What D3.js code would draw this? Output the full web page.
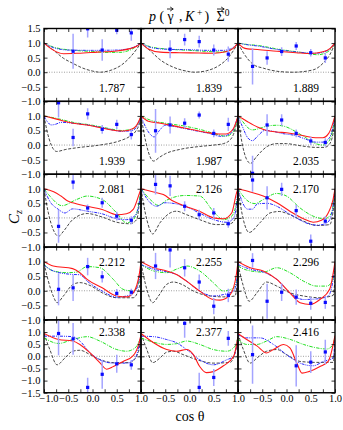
<!DOCTYPE html>
<html>
<head>
<meta charset="utf-8">
<script src="https://cdn.jsdelivr.net/npm/d3@7"></script>
<style>
  body { margin: 0; background: #fff; }
  text { font-family: "Liberation Serif", "DejaVu Serif", serif; }
</style>
</head>
<body>
<svg id="svg"></svg>
<script>
// photon energies, one per panel (row by row)
const energies = ["1.787", "1.839", "1.889", "1.939", "1.987", "2.035", "2.081", "2.126", "2.170",
                  "2.212", "2.255", "2.296", "2.338", "2.377", "2.416"];

// measured Cz: [cos theta, Cz, error]
const measured = [
  [[-0.4, 0.72, 0.6], [-0.1, 1.49, 0.3], [0.2, 0.76, 0.37], [0.5, 1.44, 0.14], [0.8, 1.35, 0.27]],
  [[-0.4, 0.79, 0.31], [-0.1, 1.12, 0.2], [0.2, 1.05, 0.2], [0.5, 0.76, 0.19], [0.8, 0.62, 0.26]],
  [[-0.7, 0.2, 0.62], [-0.4, 0.49, 0.23], [-0.1, 0.71, 0.15], [0.2, 0.9, 0.14], [0.5, 0.67, 0.13], [0.8, 0.49, 0.17]],
  [[-0.7, 1.45, 0.5], [-0.4, 0.26, 0.3], [-0.1, 1.07, 0.19], [0.2, 0.54, 0.15], [0.5, 0.71, 0.16], [0.8, 0.36, 0.17]],
  [[-0.7, 0.49, 0.75], [-0.4, 0.69, 0.29], [-0.1, 0.75, 0.17], [0.2, 1.03, 0.12], [0.5, 0.4, 0.13], [0.8, 0.71, 0.23]],
  [[-0.7, -0.97, 0.6], [-0.4, 0.69, 0.37], [-0.1, 0.86, 0.2], [0.2, 0.4, 0.13], [0.5, 0.14, 0.14], [0.8, 0.09, 0.14]],
  [[-0.7, -0.29, 0.56], [-0.4, 1.23, 0.25], [-0.1, 0.34, 0.12], [0.2, 0.52, 0.17], [0.5, 0.06, 0.15], [0.8, -0.08, 0.14]],
  [[-0.7, 1.15, 0.35], [-0.4, 1.1, 0.35], [-0.1, 0.4, 0.17], [0.2, 0.11, 0.17], [0.5, 0.17, 0.17], [0.8, -0.2, 0.14]],
  [[-0.7, 1.3, 0.4], [-0.4, 0.69, 0.4], [-0.1, 0.98, 0.23], [0.2, 0.25, 0.2], [0.5, -0.8, 0.23], [0.8, -0.11, 0.17]],
  [[-0.7, 0.05, 0.55], [-0.4, 0.1, 0.45], [-0.1, 0.83, 0.3], [0.2, 0.48, 0.2], [0.5, -0.09, 0.15], [0.8, -0.05, 0.12]],
  [[-0.7, 0.85, 0.45], [-0.4, 1.4, 0.6], [-0.1, 0.79, 0.3], [0.2, 0.3, 0.26], [0.5, -0.53, 0.28], [0.8, -0.16, 0.23]],
  [[-0.7, 1.04, 0.25], [-0.4, -0.36, 0.6], [-0.1, -0.05, 0.3], [0.2, -0.22, 0.26], [0.5, -0.43, 0.22], [0.8, -0.4, 0.22]],
  [[-0.7, 0.94, 0.9], [-0.4, 0.72, 0.65], [-0.1, -1.28, 0.4], [0.2, -0.74, 0.6], [0.5, -0.31, 0.37], [0.8, -0.35, 0.2]],
  [[-0.1, 1.36, 0.6], [0.2, -1.28, 0.6], [0.5, -0.87, 0.35], [0.8, 0.74, 0.3]],
  [[-0.7, 0.07, 1.2], [0.2, -0.39, 0.85], [0.5, -0.24, 0.45], [0.8, 0.18, 0.5]]
];

// model curves, [cos theta, Cz]
const redModel = [
  [[-1, 1], [-0.85, 0.8], [-0.6, 0.635], [-0.3, 0.65], [0.1, 0.69], [0.5, 0.73], [0.77, 0.81], [0.92, 0.9], [1, 1]],
  [[-1, 1], [-0.85, 0.8], [-0.6, 0.69], [-0.2, 0.67], [0.2, 0.66], [0.5, 0.65], [0.75, 0.7], [0.9, 0.82], [1, 1]],
  [[-1, 1], [-0.9, 0.85], [-0.8, 0.8], [-0.6, 0.78], [-0.2, 0.72], [0.2, 0.67], [0.5, 0.64], [0.75, 0.7], [0.9, 0.82], [1, 1]],
  [[-1, 1], [-0.74, 0.89], [-0.4, 0.75], [-0.05, 0.67], [0.29, 0.55], [0.63, 0.48], [0.84, 0.57], [0.95, 0.8], [1, 1]],
  [[-1, 1], [-0.85, 0.82], [-0.6, 0.75], [-0.3, 0.65], [0, 0.55], [0.3, 0.45], [0.6, 0.38], [0.75, 0.38], [0.9, 0.55], [1, 1]],
  [[-1, 1], [-0.9, 0.9], [-0.8, 0.8], [-0.6, 0.62], [-0.4, 0.5], [-0.2, 0.45], [0, 0.42], [0.2, 0.37], [0.4, 0.3], [0.6, 0.25], [0.75, 0.25], [0.87, 0.4], [0.95, 0.72], [1, 1]],
  [[-1, 1], [-0.8, 0.9], [-0.65, 0.75], [-0.5, 0.57], [-0.41, 0.52], [-0.11, 0.4], [0.2, 0.29], [0.5, 0.11], [0.7, 0.14], [0.84, 0.29], [0.97, 0.86], [1, 1]],
  [[-1, 1], [-0.74, 0.89], [-0.54, 0.8], [-0.33, 0.57], [-0.09, 0.4], [0.2, 0.23], [0.5, 0.0], [0.7, -0.03], [0.87, 0.17], [0.97, 0.86], [1, 1]],
  [[-1, 1], [-0.75, 0.89], [-0.48, 0.75], [-0.2, 0.52], [0.07, 0.23], [0.35, -0.03], [0.55, -0.15], [0.72, -0.08], [0.86, 0.17], [0.96, 0.63], [1, 1]],
  [[-1, 1], [-0.81, 0.85], [-0.41, 0.76], [-0.26, 0.62], [-0.11, 0.39], [0.2, 0.1], [0.5, -0.18], [0.7, -0.21], [0.84, -0.07], [0.97, 0.62], [1, 1]],
  [[-1, 1], [-0.74, 0.79], [-0.47, 0.68], [-0.27, 0.56], [-0.06, 0.33], [0.21, -0.01], [0.49, -0.3], [0.63, -0.32], [0.84, -0.13], [0.97, 0.6], [1, 1]],
  [[-1, 1], [-0.75, 0.79], [-0.48, 0.68], [-0.2, 0.39], [0.07, -0.07], [0.28, -0.41], [0.49, -0.47], [0.69, -0.3], [0.89, 0.05], [1, 1]],
  [[-1, 0.94], [-0.7, 0.69], [-0.41, 0.63], [-0.26, 0.49], [-0.05, 0.14], [0.15, -0.26], [0.29, -0.53], [0.43, -0.42], [0.63, -0.21], [0.84, 0.03], [0.97, 0.63], [1, 0.9]],
  [[-1, 0.94], [-0.74, 0.56], [-0.47, 0.28], [-0.27, 0.21], [-0.06, 0.28], [0.08, 0.07], [0.21, -0.42], [0.35, -0.67], [0.49, -0.63], [0.7, -0.39], [0.91, 0.0], [1, 0.8]],
  [[-1, 0.94], [-0.82, 0.69], [-0.61, 0.43], [-0.41, 0.14], [-0.27, 0.28], [-0.06, 0.49], [0.07, 0.35], [0.21, -0.26], [0.32, -0.69], [0.46, -0.63], [0.69, -0.42], [0.86, -0.21], [1, 0.85]]
];

const greenModel = [
  [[-1, 1], [-0.8, 0.86], [-0.6, 0.79], [-0.3, 0.74], [0, 0.71], [0.3, 0.68], [0.55, 0.68], [0.8, 0.78], [1, 1]],
  [[-1, 1], [-0.8, 0.87], [-0.5, 0.8], [0, 0.75], [0.4, 0.71], [0.65, 0.69], [0.85, 0.77], [1, 1]],
  [[-1, 1], [-0.8, 0.95], [-0.6, 0.92], [-0.2, 0.8], [0.3, 0.68], [0.65, 0.6], [0.85, 0.7], [1, 1]],
  [[-1, 1], [-0.7, 0.9], [-0.4, 0.78], [0, 0.68], [0.3, 0.58], [0.6, 0.5], [0.82, 0.55], [0.95, 0.78], [1, 1]],
  [[-1, 1], [-0.8, 0.85], [-0.5, 0.75], [-0.1, 0.65], [0.3, 0.5], [0.6, 0.35], [0.75, 0.3], [0.9, 0.45], [1, 1]],
  [[-1, 1], [-0.9, 0.8], [-0.8, 0.6], [-0.7, 0.52], [-0.6, 0.55], [-0.4, 0.65], [-0.2, 0.68], [0, 0.62], [0.2, 0.45], [0.4, 0.25], [0.6, 0.05], [0.75, 0.0], [0.87, 0.12], [0.95, 0.5], [1, 1]],
  [[-1, 1], [-0.88, 0.75], [-0.63, 0.42], [-0.33, 0.63], [-0.11, 0.75], [0.2, 0.63], [0.5, 0.17], [0.7, -0.17], [0.84, -0.06], [0.97, 0.63], [1, 1]],
  [[-1, 1], [-0.81, 0.63], [-0.64, 0.43], [-0.47, 0.61], [-0.09, 0.77], [0.21, 0.75], [0.49, 0.23], [0.7, -0.06], [0.87, 0.06], [0.99, 0.75], [1, 1]],
  [[-1, 1], [-0.82, 0.61], [-0.65, 0.49], [-0.48, 0.63], [-0.2, 0.84], [0, 0.75], [0.28, 0.34], [0.55, 0.06], [0.79, -0.03], [0.93, 0.17], [1, 1]],
  [[-1, 0.9], [-0.81, 0.68], [-0.53, 0.62], [-0.33, 0.64], [-0.11, 0.83], [0.15, 0.79], [0.43, 0.39], [0.63, 0.05], [0.84, -0.01], [0.97, 0.39], [1, 0.9]],
  [[-1, 0.9], [-0.74, 0.68], [-0.47, 0.62], [-0.27, 0.74], [-0.06, 0.85], [0.21, 0.68], [0.49, 0.28], [0.7, -0.01], [0.91, 0.1], [0.99, 0.5], [1, 0.8]],
  [[-1, 0.85], [-0.82, 0.71], [-0.48, 0.64], [-0.2, 0.79], [0.07, 0.62], [0.35, 0.33], [0.62, 0.16], [0.83, 0.16], [0.96, 0.39], [1, 0.85]],
  [[-1, 0.76], [-0.7, 0.53], [-0.41, 0.69], [-0.11, 0.81], [0.15, 0.63], [0.5, 0.28], [0.7, 0.21], [0.88, 0.35], [1, 0.8]],
  [[-1, 0.76], [-0.74, 0.58], [-0.47, 0.49], [-0.27, 0.52], [-0.06, 0.63], [0.21, 0.49], [0.49, 0.28], [0.77, 0.21], [0.94, 0.42], [1, 0.8]],
  [[-1, 0.7], [-0.82, 0.49], [-0.61, 0.49], [-0.41, 0.63], [-0.2, 0.81], [0.07, 0.7], [0.35, 0.49], [0.62, 0.35], [0.83, 0.3], [0.96, 0.49], [1, 0.85]]
];

const blueModel = [
  [[-1, 1], [-0.8, 0.84], [-0.5, 0.76], [0, 0.75], [0.5, 0.76], [0.8, 0.83], [1, 1]],
  [[-1, 1], [-0.8, 0.85], [-0.5, 0.79], [0, 0.77], [0.4, 0.75], [0.7, 0.75], [0.88, 0.83], [1, 1]],
  [[-1, 1], [-0.8, 0.94], [-0.6, 0.9], [-0.2, 0.78], [0.3, 0.68], [0.6, 0.65], [0.85, 0.75], [1, 1]],
  [[-1, 1], [-0.93, 0.8], [-0.85, 0.69], [-0.75, 0.72], [-0.65, 0.78], [-0.4, 0.75], [0, 0.66], [0.3, 0.56], [0.6, 0.47], [0.82, 0.5], [0.95, 0.75], [1, 1]],
  [[-1, 1], [-0.9, 0.6], [-0.8, 0.35], [-0.73, 0.28], [-0.62, 0.5], [-0.5, 0.68], [-0.2, 0.6], [0.1, 0.5], [0.4, 0.4], [0.65, 0.3], [0.85, 0.4], [1, 1]],
  [[-1, 1], [-0.9, 0.6], [-0.8, 0.25], [-0.7, 0.15], [-0.6, 0.3], [-0.45, 0.5], [-0.3, 0.48], [-0.1, 0.4], [0.2, 0.32], [0.4, 0.2], [0.6, 0.1], [0.75, 0.1], [0.87, 0.22], [0.95, 0.55], [1, 1]],
  [[-1, 1], [-0.88, 0.57], [-0.7, 0.29], [-0.57, 0.17], [-0.41, 0.31], [-0.11, 0.23], [0.2, 0.14], [0.5, -0.03], [0.7, -0.06], [0.88, 0.08], [0.98, 0.69], [1, 1]],
  [[-1, 1], [-0.81, 0.52], [-0.68, 0.4], [-0.51, 0.52], [-0.09, 0.4], [0.2, 0.17], [0.5, -0.06], [0.77, -0.15], [0.91, 0.0], [0.99, 0.8], [1, 1]],
  [[-1, 1], [-0.9, 0.5], [-0.8, 0.3], [-0.7, 0.3], [-0.6, 0.48], [-0.4, 0.5], [-0.2, 0.4], [0, 0.2], [0.2, 0.0], [0.45, -0.2], [0.65, -0.25], [0.85, -0.15], [0.95, 0.3], [1, 1]],
  [[-1, 0.88], [-0.81, 0.68], [-0.41, 0.56], [-0.26, 0.55], [-0.11, 0.33], [0.2, -0.01], [0.5, -0.22], [0.7, -0.18], [0.88, -0.02], [0.98, 0.62], [1, 1]],
  [[-1, 0.9], [-0.74, 0.74], [-0.47, 0.65], [-0.27, 0.56], [-0.06, 0.33], [0.21, -0.01], [0.49, -0.18], [0.7, -0.13], [0.91, -0.01], [0.99, 0.55], [1, 0.9]],
  [[-1, 0.9], [-0.75, 0.74], [-0.48, 0.64], [-0.2, 0.39], [0.07, -0.07], [0.35, -0.3], [0.62, -0.28], [0.86, -0.18], [0.98, 0.62], [1, 0.95]],
  [[-1, 0.83], [-0.7, 0.83], [-0.41, 0.81], [-0.26, 0.63], [-0.05, 0.14], [0.15, -0.14], [0.43, -0.28], [0.7, -0.28], [0.88, -0.07], [1, 0.85]],
  [[-1, 0.83], [-0.74, 0.81], [-0.47, 0.69], [-0.27, 0.56], [-0.06, 0.28], [0.21, -0.14], [0.49, -0.35], [0.77, -0.14], [0.91, 0.0], [1, 0.8]],
  [[-1, 0.9], [-0.82, 0.76], [-0.55, 0.76], [-0.27, 0.49], [0.0, 0.07], [0.28, -0.28], [0.55, -0.39], [0.76, -0.21], [0.96, -0.07], [1, 0.7]]
];

const blackModel = [
  [[-1, 1], [-0.8, 0.75], [-0.6, 0.48], [-0.4, 0.3], [-0.2, 0.14], [0, 0.04], [0.15, 0.0], [0.4, 0.08], [0.6, 0.25], [0.8, 0.56], [1, 1]],
  [[-1, 1], [-0.8, 0.72], [-0.6, 0.42], [-0.3, 0.15], [0, 0.02], [0.1, 0.0], [0.35, 0.05], [0.6, 0.22], [0.8, 0.5], [1, 1]],
  [[-1, 1], [-0.89, 0.67], [-0.68, 0.26], [-0.48, 0.14], [-0.13, 0.02], [0.14, 0.0], [0.55, 0.08], [0.76, 0.32], [0.9, 0.62], [1, 1]],
  [[-1, 1], [-0.94, 0.5], [-0.85, 0.0], [-0.74, -0.22], [-0.55, -0.15], [-0.26, -0.08], [0.15, 0.0], [0.57, 0.15], [0.77, 0.3], [0.9, 0.5], [0.97, 0.75], [1, 1]],
  [[-1, 1], [-0.9, 0.1], [-0.8, -0.45], [-0.74, -0.55], [-0.62, -0.42], [-0.5, -0.3], [-0.2, -0.15], [0.2, -0.05], [0.5, 0.0], [0.7, 0.05], [0.85, 0.2], [0.95, 0.6], [1, 1]],
  [[-1, 1], [-0.92, 0.1], [-0.82, -0.5], [-0.74, -0.63], [-0.62, -0.4], [-0.4, -0.05], [-0.2, 0.05], [0, 0.05], [0.2, 0.0], [0.4, -0.05], [0.6, -0.08], [0.78, -0.08], [0.88, 0.02], [0.96, 0.4], [1, 1]],
  [[-1, 1], [-0.91, 0.17], [-0.81, -0.4], [-0.7, -0.63], [-0.6, -0.46], [-0.41, -0.06], [-0.11, 0.15], [0.2, 0.03], [0.5, -0.15], [0.77, -0.2], [0.91, -0.06], [0.99, 0.86], [1, 1]],
  [[-1, 1], [-0.88, -0.06], [-0.76, -0.55], [-0.61, -0.17], [-0.4, 0.17], [-0.27, 0.23], [-0.06, 0.11], [0.21, -0.06], [0.56, -0.23], [0.84, -0.2], [0.97, 0.06], [1, 1]],
  [[-1, 1], [-0.89, -0.06], [-0.77, -0.5], [-0.55, -0.17], [-0.34, 0.17], [-0.15, 0.22], [0.07, 0.11], [0.35, -0.11], [0.62, -0.26], [0.89, -0.23], [0.98, 0.5], [1, 1]],
  [[-1, 0.95], [-0.92, 0.39], [-0.81, -0.18], [-0.73, -0.41], [-0.6, -0.18], [-0.4, 0.22], [-0.26, 0.28], [-0.05, 0.18], [0.2, -0.07], [0.5, -0.24], [0.84, -0.24], [0.97, 0.16], [1, 0.9]],
  [[-1, 0.95], [-0.88, 0.05], [-0.76, -0.41], [-0.64, -0.18], [-0.47, 0.22], [-0.33, 0.3], [-0.16, 0.22], [0.08, -0.01], [0.35, -0.16], [0.7, -0.21], [0.94, -0.18], [1, 0.6]],
  [[-1, 0.9], [-0.89, 0.16], [-0.77, -0.36], [-0.61, -0.07], [-0.41, 0.3], [-0.2, 0.16], [0.07, -0.07], [0.35, -0.18], [0.69, -0.24], [0.96, -0.16], [1, 0.4]],
  [[-1, 0.94], [-0.88, 0.28], [-0.73, -0.35], [-0.57, -0.07], [-0.41, 0.21], [-0.26, 0.25], [-0.05, 0.07], [0.15, -0.13], [0.43, -0.26], [0.77, -0.26], [0.94, 0.14], [1, 0.85]],
  [[-1, 0.94], [-0.88, 0.28], [-0.76, -0.26], [-0.61, -0.07], [-0.47, 0.17], [-0.33, 0.21], [-0.13, 0.07], [0.15, -0.14], [0.49, -0.28], [0.84, -0.25], [1, 0.6]],
  [[-1, 0.94], [-0.89, 0.28], [-0.75, -0.28], [-0.61, -0.07], [-0.41, 0.21], [-0.2, 0.28], [0, 0.07], [0.28, -0.21], [0.62, -0.25], [0.96, -0.25], [1, 0.5]]
];

const xTicks = [-1, -0.75, -0.5, -0.25, 0, 0.25, 0.5, 0.75, 1];
const yTicks = [-1.5, -1, -0.5, 0, 0.5, 1, 1.5];

var width = 343, height = 430;
var marginLeft = 44, marginTop = 28.5, pw = 97, ph = 72.85;

var svg = d3.select("#svg")
    .attr("width", width)
    .attr("height", height);

const fmt = d3.format(".1f");

// curve styles: drawn in this order
const models = [
  {data: blackModel, color: "#333", dash: "3,1.6", w: 0.9},
  {data: greenModel, color: "#22e022", dash: "3.5,1.2,1,1.2", w: 1},
  {data: blueModel, color: "#2a2aff", dash: "3,1,1,1,1,1", w: 1},
  {data: redModel, color: "#ff1a1a", dash: null, w: 1.1}
];

energies.forEach(function(e, i) {
  var r = Math.floor(i / 3), c = i % 3;
  var x0 = marginLeft + c * pw, y0 = marginTop + r * ph;
  var x = d3.scaleLinear().domain([-1, 1]).range([x0, x0 + pw]);
  var y = d3.scaleLinear().domain([r == 4 ? -1.5 : -1, 1.5]).range([y0 + ph, y0]);
  var yVals = yTicks.filter(v => v >= y.domain()[0] - 1e-9);

  svg.append("clipPath").attr("id", "clip" + i)
    .append("rect").attr("x", x0).attr("y", y0).attr("width", pw).attr("height", ph);

  var g = svg.append("g");
  var inner = g.append("g").attr("clip-path", "url(#clip" + i + ")");

  // zero line
  inner.append("line")
      .attr("x1", x(-1)).attr("x2", x(1))
      .attr("y1", y(0)).attr("y2", y(0))
      .attr("stroke", "#888").attr("stroke-width", 0.8)
      .attr("stroke-dasharray", "1,1.5");

  var line = d3.line()
      .x(d => x(d[0]))
      .y(d => y(d[1]))
      .curve(d3.curveMonotoneX);

  models.forEach(function(m) {
    inner.append("path")
        .datum(m.data[i])
        .attr("d", line)
        .attr("fill", "none")
        .attr("stroke", m.color)
        .attr("stroke-width", m.w)
        .attr("stroke-dasharray", m.dash);
  });

  // error bars and points
  inner.selectAll(".err")
    .data(measured[i])
    .join("line")
      .attr("x1", d => x(d[0])).attr("x2", d => x(d[0]))
      .attr("y1", d => y(d[1] - d[2])).attr("y2", d => y(d[1] + d[2]))
      .attr("stroke", "#a4a4ff").attr("stroke-width", 1.5);

  inner.selectAll(".pt")
    .data(measured[i])
    .join("rect")
      .attr("x", d => x(d[0]) - 1.6).attr("y", d => y(d[1]) - 1.6)
      .attr("width", 3.2).attr("height", 3.2)
      .attr("fill", "#0a0aff");

  // axes, ticks pointing inward
  var bottom = d3.axisBottom(x).tickValues(xTicks).tickSizeInner(-3.5).tickSizeOuter(0).tickPadding(1.5)
      .tickFormat(d => (r == 4 && Math.abs(d * 2 - Math.round(d * 2)) < 1e-9 && !(c > 0 && d == -1)) ? fmt(d) : "");
  var topAx = d3.axisTop(x).tickValues(xTicks).tickSizeInner(-3.5).tickSizeOuter(0).tickFormat("");
  var leftAx = d3.axisLeft(y).tickValues(yVals).tickSizeInner(-3.5).tickSizeOuter(0).tickPadding(3.5)
      .tickFormat(d => (c == 0 && !(r > 0 && d == 1.5)) ? fmt(d) : "");
  var rightAx = d3.axisRight(y).tickValues(yVals).tickSizeInner(-3.5).tickSizeOuter(0).tickFormat("");

  [[bottom, "translate(0," + (y0 + ph) + ")"], [topAx, "translate(0," + y0 + ")"],
   [leftAx, "translate(" + x0 + ",0)"], [rightAx, "translate(" + (x0 + pw) + ",0)"]].forEach(function(a) {
    var ax = g.append("g").attr("transform", a[1]).call(a[0]);
    ax.select(".domain").remove();
    ax.selectAll("line").attr("stroke", "#000").attr("stroke-width", 0.8);
    ax.selectAll("text").attr("fill", "#000").style("font-size", "10.5px")
      .style("font-family", "'Liberation Serif', serif");
    // the first label of the bottom row sits a little right of its tick, clear of the y labels
    if (a[0] === bottom && c == 0) {
      ax.selectAll(".tick text").filter(d => d == -1).attr("dx", 4.5);
    }
  });

  // frame
  g.append("rect")
      .attr("x", x0).attr("y", y0).attr("width", pw).attr("height", ph)
      .attr("fill", "none").attr("stroke", "#000").attr("stroke-width", 1.4);

  // energy label
  g.append("text")
      .attr("x", x(0.67))
      .attr("y", y(r < 2 ? -0.67 : 0.85))
      .attr("text-anchor", "end")
      .style("font-size", "11.5px")
      .text(e);
});

// title, each piece placed where the reference has it
var titleParts = [
  {t: "p", x: 149, it: true}, {t: "(", x: 159.5}, {t: "γ", x: 167.5, vec: true}, {t: ",", x: 179},
  {t: "K", x: 185, it: true}, {t: "+", x: 197, sup: true}, {t: ")", x: 204.5},
  {t: "Σ", x: 216.5, vec: true}, {t: "0", x: 224.8, sup: true}
];
titleParts.forEach(function(p) {
  var t = svg.append("text")
      .attr("x", p.x).attr("y", p.sup ? 15.5 : 20.5)
      .style("font-size", p.sup ? "9.5px" : "14px")
      .style("font-style", p.it ? "italic" : "normal")
      .text(p.t);
  if (p.vec) {
    var b = t.node().getBBox();
    var ax1 = b.x + 0.5, ax2 = b.x + b.width - 0.5, ay = b.y + 0.5;
    svg.append("line").attr("x1", ax1).attr("x2", ax2).attr("y1", ay).attr("y2", ay)
        .attr("stroke", "#000").attr("stroke-width", 0.8);
    svg.append("path")
        .attr("d", "M" + (ax2 - 3) + "," + (ay - 2) + "L" + ax2 + "," + ay + "L" + (ax2 - 3) + "," + (ay + 2))
        .attr("fill", "none").attr("stroke", "#000").attr("stroke-width", 0.8);
  }
});

// axis titles
var yl = svg.append("text")
    .attr("transform", "translate(19,217) rotate(-90)")
    .attr("text-anchor", "middle")
    .style("font-size", "15px");
yl.append("tspan").style("font-style", "italic").text("C");
yl.append("tspan").attr("dy", 3).style("font-size", "10px").style("font-style", "italic").text("z");

svg.append("text")
    .attr("x", 190).attr("y", 421)
    .attr("text-anchor", "middle")
    .style("font-size", "14px")
    .text("cos θ");
</script>
</body>
</html>
